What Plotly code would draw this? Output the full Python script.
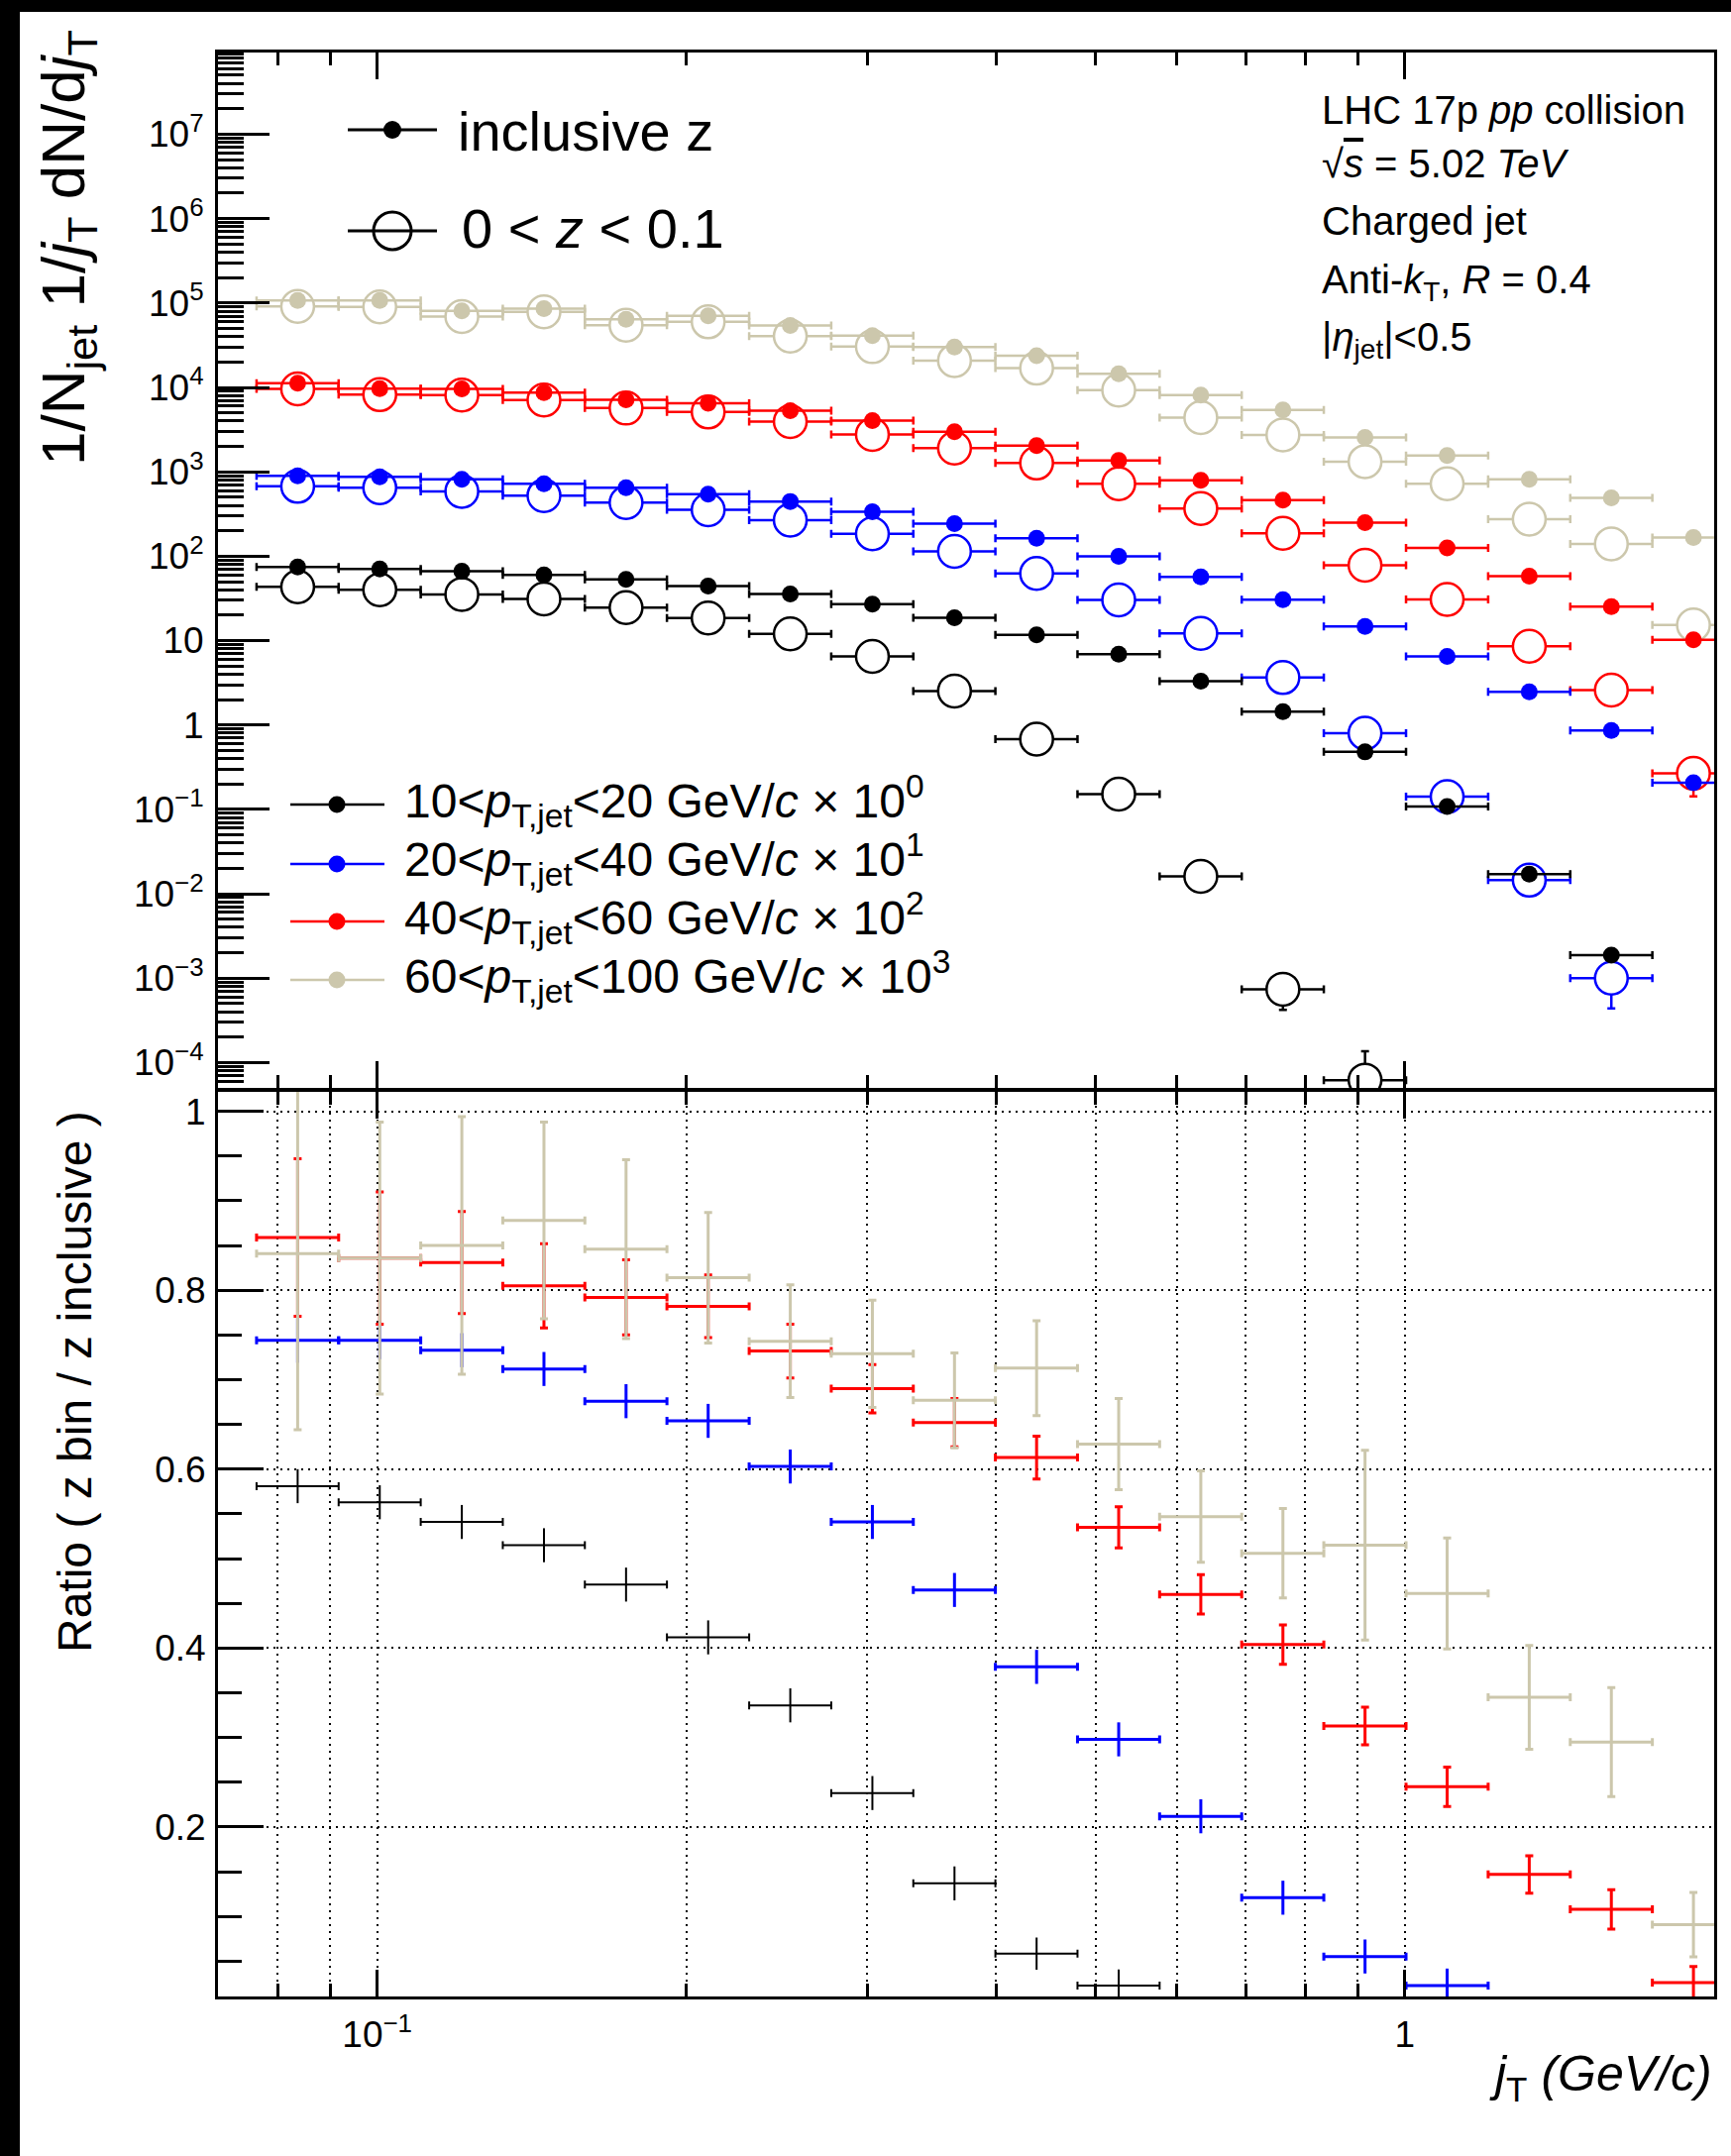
import math
import plotly.graph_objects as go

# ---------------- data ----------------
jt = [0.08368, 0.10058, 0.12089, 0.14531, 0.17466, 0.20994, 0.25235, 0.30332, 0.36458,
      0.43822, 0.52673, 0.63313, 0.76101, 0.91474, 1.0995, 1.3216, 1.5885, 1.9093]
jt_lo = [0.07632, 0.09173, 0.11025, 0.13251, 0.15926, 0.19142, 0.23014, 0.27660, 0.33244,
         0.39957, 0.48028, 0.57730, 0.69391, 0.83403, 1.00276, 1.20534, 1.44877, 1.74139]
jt_hi = [0.09173, 0.11025, 0.13251, 0.15926, 0.19142, 0.23014, 0.27660, 0.33244, 0.39957,
         0.48028, 0.57730, 0.69391, 0.83403, 1.00276, 1.20534, 1.44877, 1.74139, 2.09314]

# spectra (already scaled by 10^0 .. 10^3)
incl_10_20 = [74.7, 70.7, 66.4, 60.1, 53.0, 44.3, 35.7, 27.0, 18.6, 11.7, 6.92, 3.3, 1.44, 0.48,
              0.108, 0.0171, 0.00187, None]
zbin_10_20 = [43.4, 40.1, 35.3, 31.1, 24.6, 18.5, 12.0, 6.5, 2.53, 0.68, 0.152, 0.0161, 7.4e-4,
              6.2e-5, None, None, None, None]
zbin_err_10_20 = [0, 0, 0, 0, 0, 0, 0, 0, 0, 0, 0, 0, 3.2e-4, 7.4e-5, 0, 0, 0, 0]

incl_20_40 = [898, 874, 813, 723, 649, 542, 445, 336, 243, 163, 99.5, 56.9, 30.5, 14.7, 6.49,
              2.47, 0.861, 0.207]
zbin_20_40 = [673, 649, 587, 523, 432, 355, 268, 184, 114, 62.4, 30.3, 12.2, 3.65, 0.80, 0.142,
              0.0145, 0.0010, None]
zbin_err_20_40 = [0, 0, 0, 0, 0, 0, 0, 0, 0, 0, 0, 0, 0, 0, 0, 0, 5.6e-4, 0]

incl_40_60 = [11200, 9690, 9600, 8690, 7130, 6510, 5290, 4040, 2980, 2040, 1360, 791, 461, 250,
              125, 58, 25.3, 10.2]
zbin_40_60 = [9600, 8200, 8100, 7070, 5690, 5110, 3930, 2770, 1910, 1270, 723, 368, 187, 78,
              30.8, 8.57, 2.59, 0.267]
zbin_err_40_60 = [0, 0, 0, 0, 0, 0, 0, 0, 0, 0, 0, 0, 0, 0, 0, 0, 0, 0.124]

incl_60_100 = [107500, 107500, 80500, 85800, 64300, 70300, 54200, 41000, 30100, 23700, 14500,
               8090, 5390, 2550, 1560, 813, 491, 166]
zbin_60_100 = [91000, 90000, 69200, 78400, 54700, 59800, 40600, 30400, 20800, 16900, 9270, 4380,
               2740, 1320, 723, 275, 140, 15.3]
zbin_err_60_100 = [0] * 18

# ratios (z bin / z inclusive)
ratio_10_20 = [0.581, 0.563, 0.541, 0.515, 0.471, 0.412, 0.336, 0.238, 0.137, 0.0585, 0.0228,
               None, None, None, None, None, None, None]
ratio_err_10_20 = [0.019, 0.019, 0.019, 0.019, 0.019, 0.019, 0.019, 0.019, 0.019, 0.018, 0.018,
                   0, 0, 0, 0, 0, 0, 0]
ratio_20_40 = [0.744, 0.744, 0.733, 0.712, 0.676, 0.654, 0.603, 0.541, 0.465, 0.379, 0.298, 0.212,
               0.121, 0.0553, 0.0228, None, None, None]
ratio_err_20_40 = [0.025, 0.021, 0.019, 0.019, 0.019, 0.019, 0.019, 0.019, 0.019, 0.019, 0.019,
                   0.019, 0.019, 0.019, 0.019, 0, 0, 0]
ratio_40_60 = [0.859, 0.836, 0.831, 0.805, 0.792, 0.782, 0.732, 0.690, 0.652, 0.613, 0.535, 0.460,
               0.404, 0.313, 0.245, 0.147, 0.108, 0.026]
ratio_err_40_60 = [0.088, 0.074, 0.057, 0.047, 0.042, 0.035, 0.030, 0.027, 0.027, 0.024, 0.023,
                   0.022, 0.022, 0.021, 0.022, 0.021, 0.022, 0.018]
ratio_60_100 = [0.841, 0.836, 0.850, 0.878, 0.846, 0.814, 0.743, 0.729, 0.677, 0.713, 0.628, 0.547,
                0.506, 0.515, 0.461, 0.345, 0.295, 0.091]
ratio_err_60_100 = [0.197, 0.152, 0.144, 0.110, 0.100, 0.073, 0.063, 0.060, 0.053, 0.053, 0.051,
                    0.051, 0.050, 0.106, 0.062, 0.058, 0.061, 0.036]

legend_labels = ["10&lt;<i>p</i><sub>T,jet</sub>&lt;20 GeV/<i>c</i> × 10<sup>0</sup>",
                 "20&lt;<i>p</i><sub>T,jet</sub>&lt;40 GeV/<i>c</i> × 10<sup>1</sup>",
                 "40&lt;<i>p</i><sub>T,jet</sub>&lt;60 GeV/<i>c</i> × 10<sup>2</sup>",
                 "60&lt;<i>p</i><sub>T,jet</sub>&lt;100 GeV/<i>c</i> × 10<sup>3</sup>"]

# ---------------- styling ----------------
FONT = "Liberation Sans, Arial, Helvetica, sans-serif"
GRAY = "rgb(204,199,172)"
colors = ["black", "rgb(0,0,255)", "rgb(255,0,0)", GRAY]
ratio_thick = [2, 3, 3, 3]
ratio_cap = [0, 0, 4, 4]

W, H = 1747, 2176
ML, MR, MT, MB = 220, 17, 53, 161


def px(X):
    return (X - ML) / (W - ML - MR)


def py(Y):
    return (H - MB - Y) / (H - MT - MB)


ex_plus = [h - c for c, h in zip(jt, jt_hi)]
ex_minus = [c - l for c, l in zip(jt, jt_lo)]

incl = [incl_10_20, incl_20_40, incl_40_60, incl_60_100]
zbin = [zbin_10_20, zbin_20_40, zbin_40_60, zbin_60_100]
zerr = [zbin_err_10_20, zbin_err_20_40, zbin_err_40_60, zbin_err_60_100]
ratios = [ratio_10_20, ratio_20_40, ratio_40_60, ratio_60_100]
ratio_errs = [ratio_err_10_20, ratio_err_20_40, ratio_err_40_60, ratio_err_60_100]

fig = go.Figure()

# open markers (0<z<0.1) first
for col, yv, ye in zip(colors, zbin, zerr):
    fig.add_trace(go.Scatter(
        x=jt, y=yv, mode="markers", xaxis="x", yaxis="y",
        marker=dict(symbol="circle", size=33, color="white", line=dict(color=col, width=2.5)),
        error_x=dict(type="data", symmetric=False, array=ex_plus, arrayminus=ex_minus,
                     color=col, thickness=2.5, width=4),
        error_y=dict(type="data", array=ye, color=col, thickness=2.5, width=4),
        hoverinfo="skip"))

# filled markers (inclusive z)
for col, yv in zip(colors, incl):
    fig.add_trace(go.Scatter(
        x=jt, y=yv, mode="markers", xaxis="x", yaxis="y",
        marker=dict(symbol="circle", size=17, color=col, line=dict(width=0)),
        error_x=dict(type="data", symmetric=False, array=ex_plus, arrayminus=ex_minus,
                     color=col, thickness=2.5, width=4),
        hoverinfo="skip"))

# ratio panel
for col, yv, ye, th, cw in zip(colors, ratios, ratio_errs, ratio_thick, ratio_cap):
    fig.add_trace(go.Scatter(
        x=jt, y=yv, mode="markers", xaxis="x2", yaxis="y2",
        marker=dict(size=1, color=col),
        error_x=dict(type="data", symmetric=False, array=ex_plus, arrayminus=ex_minus,
                     color=col, thickness=th, width=4),
        error_y=dict(type="data", array=ye, color=col, thickness=th, width=cw),
        hoverinfo="skip"))

# ---------------- axes ----------------
x_major = [0.1, 1]
x_minor = [0.08, 0.09, 0.2, 0.3, 0.4, 0.5, 0.6, 0.7, 0.8, 0.9, 2]
y_major = [10.0 ** e for e in range(-4, 8)]
y_text = ["10<sup>−4</sup>", "10<sup>−3</sup>", "10<sup>−2</sup>", "10<sup>−1</sup>", "1", "10",
          "10<sup>2</sup>", "10<sup>3</sup>", "10<sup>4</sup>", "10<sup>5</sup>", "10<sup>6</sup>",
          "10<sup>7</sup>"]
y_minor = [k * 10.0 ** e for e in range(-5, 8) for k in range(2, 10)]
r_major = [0.2, 0.4, 0.6, 0.8, 1.0]
r_text = ["0.2", "0.4", "0.6", "0.8", "1"]
r_minor = [0.05, 0.1, 0.15, 0.25, 0.3, 0.35, 0.45, 0.5, 0.55, 0.65, 0.7, 0.75, 0.85, 0.9, 0.95]

TICKF = dict(family=FONT, size=37, color="black")
UP_BOT = py(1098)
LO_TOP = py(1101.5)

common_x = dict(type="log", range=[math.log10(0.07), math.log10(2.0)], domain=[0, 1],
                ticks="inside", tickmode="array", tickvals=x_major, ticklen=27, tickwidth=2.5,
                tickcolor="black", showline=True, linewidth=3, linecolor="black",
                mirror="ticks", zeroline=False, tickfont=TICKF)

fig.update_layout(
    width=W, height=H, template="none",
    margin=dict(l=ML, r=MR, t=MT, b=MB, pad=0),
    paper_bgcolor="white", plot_bgcolor="white", showlegend=False,
    font=dict(family=FONT, color="black"),
    xaxis=dict(common_x, anchor="y", showticklabels=False, showgrid=False,
               minor=dict(tickmode="array", tickvals=x_minor, ticks="inside", ticklen=13,
                          tickwidth=2.5, tickcolor="black", showgrid=False)),
    yaxis=dict(type="log", range=[-4.30, 7.968], domain=[UP_BOT, 1], anchor="x",
               tickmode="array", tickvals=y_major, ticktext=y_text, ticks="inside",
               ticklen=52, tickwidth=2.5, tickcolor="black", showline=True, linewidth=3,
               linecolor="black", mirror=True, showgrid=False, zeroline=False,
               tickfont=TICKF, ticklabelstandoff=4,
               minor=dict(tickmode="array", tickvals=y_minor, ticks="inside", ticklen=26,
                          tickwidth=2.5, tickcolor="black", showgrid=False)),
    xaxis2=dict(common_x, anchor="y2", ticktext=["10<sup>−1</sup>", "1"], showticklabels=True,
                showgrid=True, gridcolor="black", gridwidth=2, griddash="2px,5px",
                ticklabelstandoff=4,
                minor=dict(tickmode="array", tickvals=x_minor, ticks="inside", ticklen=13,
                           tickwidth=2.5, tickcolor="black", showgrid=True, gridcolor="black",
                           gridwidth=2, griddash="2px,5px")),
    yaxis2=dict(range=[0.0106, 1.0223], domain=[0, LO_TOP], anchor="x2",
                tickmode="array", tickvals=r_major, ticktext=r_text, ticks="inside",
                ticklen=46, tickwidth=2.5, tickcolor="black", showline=True, linewidth=3,
                linecolor="black", mirror=True, zeroline=False, tickfont=TICKF,
                ticklabelstandoff=2,
                showgrid=True, gridcolor="black", gridwidth=2, griddash="2px,5px",
                minor=dict(tickmode="array", tickvals=r_minor, ticks="inside", ticklen=24,
                           tickwidth=2.5, tickcolor="black", showgrid=False)),
)

# ---------------- decorations ----------------
shapes = []
# black bands at top and left of the image
shapes.append(dict(type="rect", xref="paper", yref="paper", x0=px(0), x1=px(20), y0=py(H),
                   y1=py(0), fillcolor="black", line=dict(width=0), layer="above"))
shapes.append(dict(type="rect", xref="paper", yref="paper", x0=px(0), x1=px(W), y0=py(12),
                   y1=py(0), fillcolor="black", line=dict(width=0), layer="above"))


def dot(X, Y, d, col, fill=True, lw=2.5):
    return dict(type="circle", xref="paper", yref="paper", xsizemode="pixel",
                ysizemode="pixel", xanchor=px(X), yanchor=py(Y), x0=-d / 2, x1=d / 2,
                y0=-d / 2, y1=d / 2, fillcolor=col if fill else "rgba(0,0,0,0)",
                line=dict(color=col, width=0 if fill else lw), layer="above")


def seg(X0, X1, Y, col, w=3):
    return dict(type="line", xref="paper", yref="paper", x0=px(X0), x1=px(X1), y0=py(Y),
                y1=py(Y), line=dict(color=col, width=w), layer="above")


# top-left legend
shapes.append(seg(351, 441, 131, "black", 3))
shapes.append(dot(396, 131, 18, "black"))
shapes.append(seg(351, 441, 233, "black", 3))
shapes.append(dot(396, 233, 38, "black", fill=False, lw=3))

# bottom-left legend
leg_y = [812, 872, 930, 989]
for col, yy in zip(colors, leg_y):
    shapes.append(seg(293, 388, yy, col, 2.5))
    shapes.append(dot(340, yy, 17, col))

fig.update_layout(shapes=shapes)

ann = []


def text(X, Y, s, size, xanchor="left", yanchor="middle", angle=0):
    ann.append(dict(xref="paper", yref="paper", x=px(X), y=py(Y), text=s, showarrow=False,
                    xanchor=xanchor, yanchor=yanchor, textangle=angle,
                    font=dict(family=FONT, size=size, color="black")))


text(460, 133, "inclusive z", 56)
text(464, 231, "0 &lt; <i>z</i> &lt; 0.1", 56)
for lab, yy in zip(legend_labels, [808, 867, 926, 985]):
    text(406, yy, lab, 48)

text(1332, 111, "LHC 17p <i>pp</i> collision", 40)
text(1332, 165, "√<span style='text-decoration:overline'><i>s</i></span> = 5.02 <i>TeV</i>", 40)
text(1332, 223, "Charged jet", 40)
text(1332, 285, "Anti-<i>k</i><sub>T</sub>, <i>R</i> = 0.4", 40)
text(1332, 343, "|<i>η</i><sub>jet</sub>|&lt;0.5", 40)

text(68, 250, "1/N<sub>jet</sub> 1/<i>j</i><sub>T</sub> dN/d<i>j</i><sub>T</sub>", 62,
     xanchor="center", angle=-90)
text(76, 1395, "Ratio ( z bin / z inclusive )", 48, xanchor="center", angle=-90)
text(1730, 2096, "<i>j</i><sub>T</sub> <i>(GeV/c)</i>", 50, xanchor="right")

fig.update_layout(annotations=ann)

fig.write_html("out.html", config={"displayModeBar": False},
               post_script="document.body.style.margin='0px';")
